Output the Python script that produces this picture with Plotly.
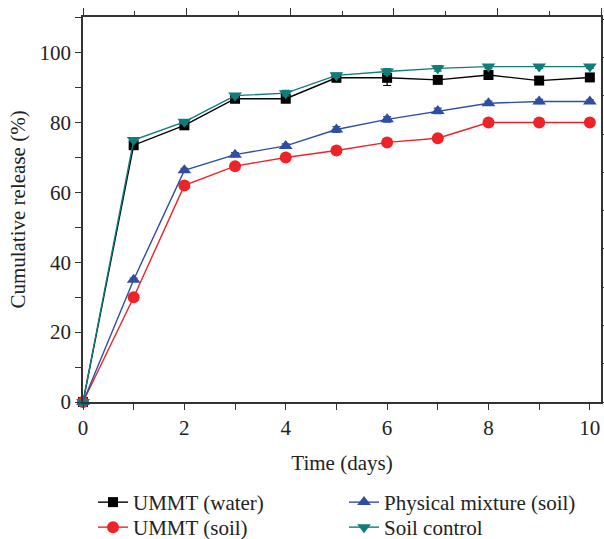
import plotly.graph_objects as go

days = [0, 1, 2, 3, 4, 5, 6, 7, 8, 9, 10]
ummt_water = [0, 73.5, 79.2, 86.8, 86.8, 92.8, 92.8, 92.2, 93.6, 92.0, 92.9]
ummt_water_err = [0, 0.6, 0.6, 0.6, 0.6, 0.5, 2.2, 0.5, 0.5, 0.8, 0.5]
ummt_soil = [0, 30.0, 62.0, 67.5, 70.0, 72.0, 74.3, 75.5, 80.0, 80.0, 80.0]
physical_soil = [0, 35.0, 66.3, 70.8, 73.3, 78.0, 80.9, 83.3, 85.5, 86.0, 86.0]
physical_err = [0, 0.5, 0.6, 0.6, 0.6, 0.8, 0.8, 0.8, 0.6, 0.6, 0.5]
soil_control = [0, 75.0, 80.2, 87.7, 88.4, 93.5, 94.6, 95.5, 96.0, 96.0, 96.0]
control_err = [0, 0.5, 0.6, 0.6, 0.8, 0.6, 0.8, 0.8, 0.6, 0.5, 0.5]

# name, values, errors, colour, symbol, size, legend row, order in row
series = [
    ("UMMT (water)", ummt_water, ummt_water_err, "#000000", "square", 10, "legend", 1),
    ("UMMT (soil)", ummt_soil, None, "#ee2328", "circle", 12, "legend2", 1),
    ("Physical mixture (soil)", physical_soil, physical_err, "#2e4ea3", "triangle-up", 12, "legend", 2),
    ("Soil control", soil_control, control_err, "#0f7d7b", "triangle-down", 12, "legend2", 2),
]

fig = go.Figure()
for name, vals, err, color, sym, size, leg, rank in series:
    fig.add_trace(go.Scatter(
        x=days, y=vals, name=name, mode="lines+markers",
        line=dict(color=color, width=1.4),
        marker=dict(color=color, symbol=sym, size=size, line=dict(width=0)),
        error_y=(dict(type="data", array=err, color=color, thickness=1.2, width=4)
                 if err is not None else None),
        cliponaxis=False, legend=leg, legendrank=rank,
    ))

axis_color = "#333333"
font_fam = "Liberation Serif, DejaVu Serif, serif"
fs = 21

legend_common = dict(orientation="h", xref="container", yref="container",
                     x=0.154, xanchor="left", yanchor="top",
                     entrywidth=206, traceorder="normal",
                     font=dict(family=font_fam, size=fs, color="#222222"),
                     itemwidth=30, tracegroupgap=0, bgcolor="rgba(0,0,0,0)")

fig.update_layout(
    width=604, height=539,
    margin=dict(l=83, r=3, t=17, b=137, autoexpand=False),
    paper_bgcolor="white", plot_bgcolor="white",
    font=dict(family=font_fam, size=fs, color="#222222"),
    showlegend=True,
    legend=dict(legend_common, y=0.1058),
    legend2=dict(legend_common, y=0.0594),
    xaxis=dict(range=[0, 10.22], tickvals=[0, 2, 4, 6, 8, 10], showgrid=False,
               zeroline=False, showline=True, linecolor=axis_color, linewidth=1.5,
               ticks="outside", ticklen=6, tickwidth=1.3, tickcolor=axis_color,
               minor=dict(dtick=1, ticks="outside", ticklen=6, tickwidth=1.3, tickcolor=axis_color),
               title=dict(text="Time (days)", font=dict(family=font_fam, size=fs), standoff=16),
               tickfont=dict(family=font_fam, size=fs), automargin=False),
    yaxis=dict(range=[0, 110.2], tickvals=[0, 20, 40, 60, 80, 100], showgrid=False,
               zeroline=False, showline=True, linecolor=axis_color, linewidth=1.5,
               ticks="outside", ticklen=6, tickwidth=1.3, tickcolor=axis_color,
               minor=dict(dtick=10, ticks="outside", ticklen=6, tickwidth=1.3, tickcolor=axis_color),
               title=dict(text="Cumulative release (%)", font=dict(family=font_fam, size=fs), standoff=8),
               tickfont=dict(family=font_fam, size=fs), automargin=False),
    xaxis2=dict(overlaying="x", side="top", range=[0, 10], anchor="y",
                tickvals=[0, 2, 4, 6, 8, 10], showticklabels=False, showgrid=False,
                zeroline=False, showline=True, linecolor=axis_color, linewidth=1.5,
                ticks="outside", ticklen=7, tickwidth=1.3, tickcolor=axis_color,
                minor=dict(dtick=1, ticks="outside", ticklen=4, tickwidth=1.3, tickcolor=axis_color),
                automargin=False),
    yaxis2=dict(overlaying="y", side="right", range=[0, 10.06], anchor="x",
                dtick=1, showticklabels=False, showgrid=False, zeroline=False,
                showline=True, linecolor=axis_color, linewidth=1.5,
                ticks="outside", ticklen=4, tickwidth=1.3, tickcolor=axis_color,
                automargin=False),
)

# invisible trace to activate the top and right axes
fig.add_trace(go.Scatter(x=[None], y=[None], xaxis="x2", yaxis="y2",
                         showlegend=False, hoverinfo="skip"))

# remove the default page margin so the 604x539 figure fills the window exactly
fig.write_html(
    "out.html",
    config={"displayModeBar": False},
    post_script="document.body.style.margin='0';document.body.style.overflow='hidden';",
)
